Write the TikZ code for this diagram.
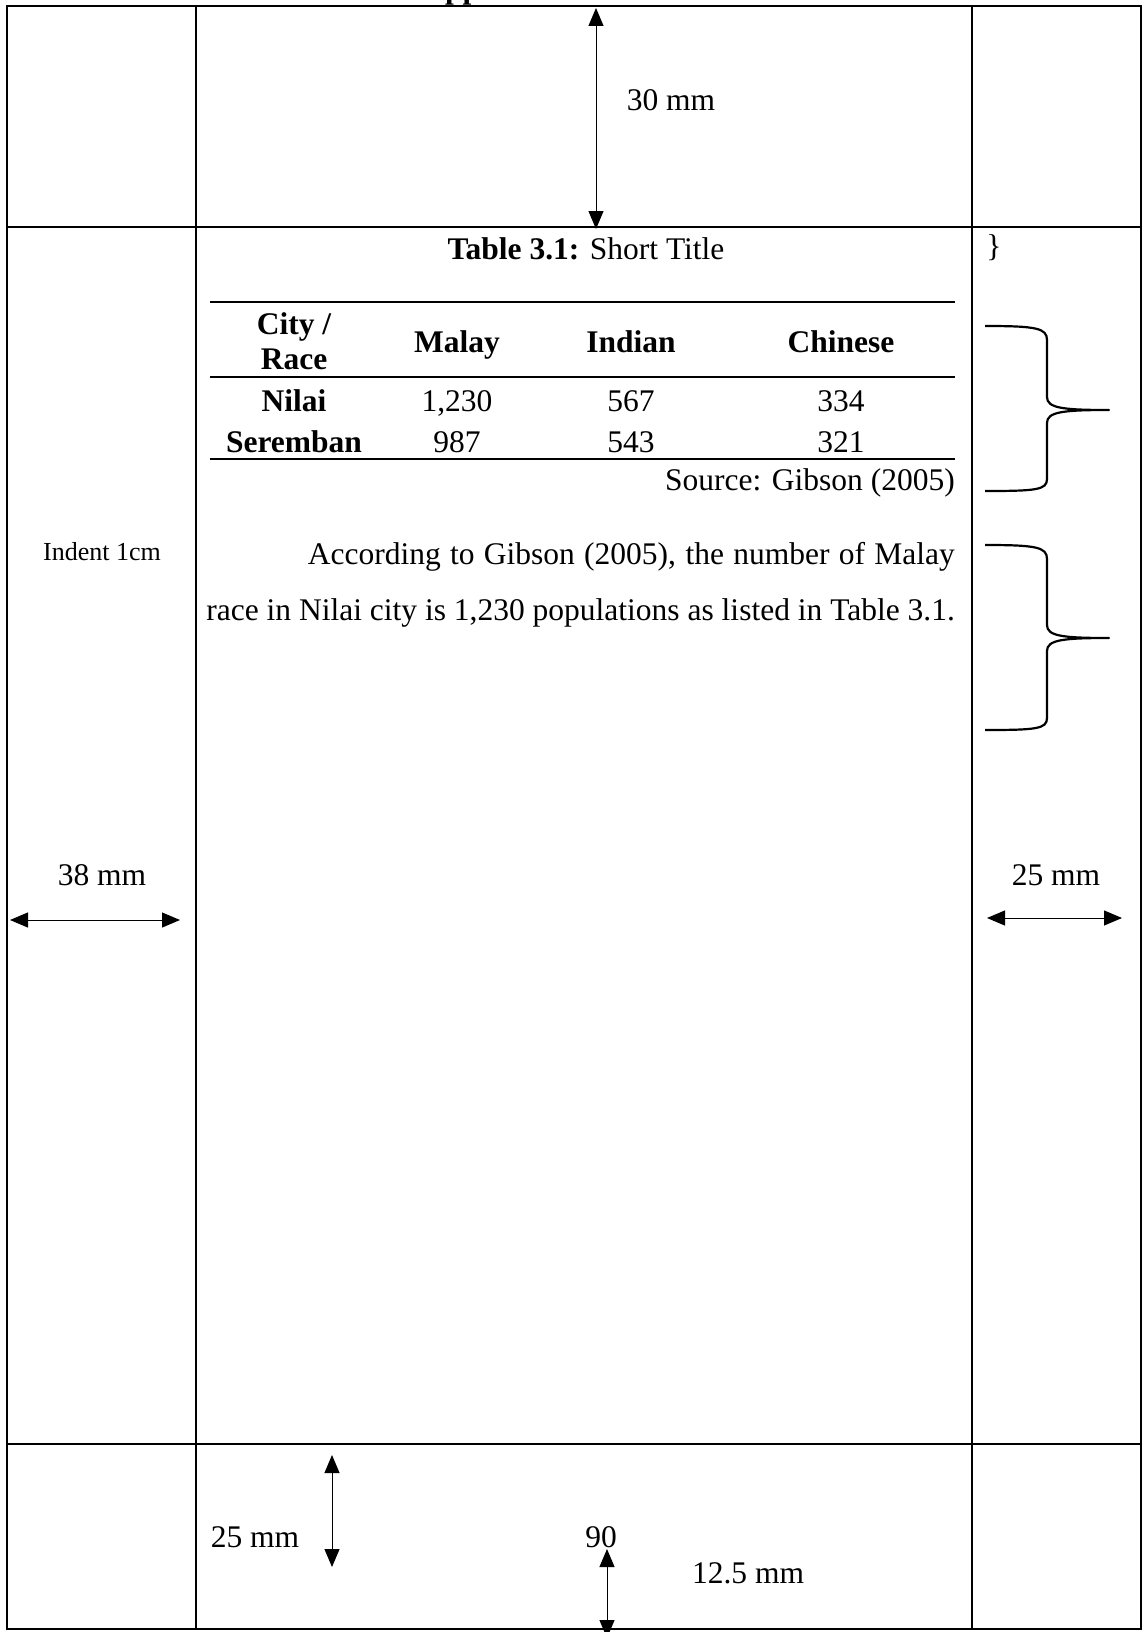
\documentclass[tikz,border=0pt]{standalone}
\usepackage{fontspec}
\setmainfont{Liberation Serif}
\usetikzlibrary{arrows.meta}
\tikzset{
  frame/.style={line width=2.8pt},
  dimarrow/.style={line width=1pt,{Triangle[width=15pt,length=18pt]}-{Triangle[width=15pt,length=18pt]}},
  txt/.style={font=\fontsize{31.5}{36}\selectfont, inner sep=0pt, anchor=base},
  small/.style={font=\fontsize{26}{30}\selectfont, inner sep=0pt, anchor=base},
  tabrule/.style={line width=2.2pt},
  bracepath/.style={line width=2.2pt, line join=round},
}
\begin{document}
\begin{tikzpicture}[x=1pt,y=-1pt]
\useasboundingbox (0,0) rectangle (1144,1632);
% clipped heading descenders at the very top
\begin{scope}
\clip (0,0) rectangle (1144,6);
\node[txt, anchor=base west, font=\fontsize{31.5}{36}\selectfont\bfseries] (head) at (445,-1) {pp};
\end{scope}
% frame
\draw[frame] (7,6) rectangle (1141,1629);
\draw[frame] (196,6) -- (196,1629);
\draw[frame] (972,6) -- (972,1629);
\draw[frame] (7,227) -- (1141,227);
\draw[frame] (7,1444) -- (1141,1444);
% top 30 mm
\coordinate (topA) at (596,8);
\coordinate (topB) at (596,229);
\draw[dimarrow] (topA) -- (topB);
\node[txt] (t30) at (671,111) {30 mm};
% table caption
\node[txt] (cap) at (586,259) {\textbf{Table 3.1:} Short Title};
\node[txt] (rb) at (994,256) {\}};
% table
\coordinate (r1a) at (210,302); \coordinate (r1b) at (955,302);
\coordinate (r2a) at (210,377); \coordinate (r2b) at (955,377);
\coordinate (r3a) at (210,459); \coordinate (r3b) at (955,459);
\draw[tabrule] (r1a) -- (r1b);
\draw[tabrule] (r2a) -- (r2b);
\draw[tabrule] (r3a) -- (r3b);
\node[txt, font=\fontsize{31.5}{36}\selectfont\bfseries] (hc1) at (294,334) {City /};
\node[txt, font=\fontsize{31.5}{36}\selectfont\bfseries] (hc2) at (294,369) {Race};
\node[txt, font=\fontsize{31.5}{36}\selectfont\bfseries] (hm) at (457,352) {Malay};
\node[txt, font=\fontsize{31.5}{36}\selectfont\bfseries] (hi) at (631,352) {Indian};
\node[txt, font=\fontsize{31.5}{36}\selectfont\bfseries] (hch) at (841,352) {Chinese};
\node[txt, font=\fontsize{31.5}{36}\selectfont\bfseries] (n1) at (294,411) {Nilai};
\node[txt] (n1m) at (457,411) {1,230};
\node[txt] (n1i) at (631,411) {567};
\node[txt] (n1c) at (841,411) {334};
\node[txt, font=\fontsize{31.5}{36}\selectfont\bfseries] (n2) at (294,452) {Seremban};
\node[txt] (n2m) at (457,452) {987};
\node[txt] (n2i) at (631,452) {543};
\node[txt] (n2c) at (841,452) {321};
\node[txt, anchor=base east] (src) at (955,490) {Source: Gibson (2005)};
% paragraph
\node[txt, anchor=base east] (p1) at (955,564) {\makebox[647pt][s]{According to Gibson (2005), the number of Malay}};
\node[txt, anchor=base east] (p2) at (955,620) {race in Nilai city is 1,230 populations as listed in Table 3.1.};
\node[small] (indent) at (102,560) {Indent 1cm};
% braces
\draw[bracepath] (985,326) .. controls (1036,326) and (1047,328) .. (1047,340)
  -- (1047,397) .. controls (1047,408) and (1062,410) .. (1109,410)
  .. controls (1062,410) and (1047,412) .. (1047,423)
  -- (1047,479) .. controls (1047,490) and (1036,491) .. (985,491);
\draw[bracepath] (985,545) .. controls (1036,545) and (1047,547) .. (1047,559)
  -- (1047,625) .. controls (1047,636) and (1062,638) .. (1109,638)
  .. controls (1062,638) and (1047,640) .. (1047,651)
  -- (1047,718) .. controls (1047,729) and (1036,730) .. (985,730);
% side margins
\node[txt] (l38) at (102,885) {38 mm};
\coordinate (la) at (10,920); \coordinate (lb) at (180,920);
\draw[dimarrow] (la) -- (lb);
\node[txt] (r25) at (1056,885) {25 mm};
\coordinate (ra) at (987,918); \coordinate (rb2) at (1122,918);
\draw[dimarrow] (ra) -- (rb2);
% bottom
\coordinate (ba) at (332,1455); \coordinate (bb) at (332,1567);
\draw[dimarrow] (ba) -- (bb);
\node[txt] (b25) at (255,1547) {25 mm};
\node[txt] (b90) at (601,1547) {90};
\coordinate (ca) at (607,1549); \coordinate (cb) at (607,1638);
\draw[dimarrow] (ca) -- (cb);
\node[txt] (b125) at (748,1583) {12.5 mm};
\end{tikzpicture}
\end{document}
